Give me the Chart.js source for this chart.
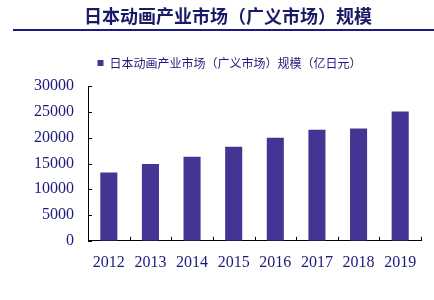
<!DOCTYPE html>
<html>
<head>
<meta charset="utf-8">
<script src="https://cdn.jsdelivr.net/npm/chart.js@4"></script>
<style>
  html, body { margin: 0; padding: 0; background: #fff; }
  #wrap { width: 434px; height: 300px; }
</style>
</head>
<body>
<div id="wrap"><canvas id="grafica" width="434" height="300"></canvas></div>
<script>
// datos del grafico
const titulo = '日本动画产业市场（广义市场）规模';
const serie = '日本动画产业市场（广义市场）规模（亿日元）';
const anios = ['2012', '2013', '2014', '2015', '2016', '2017', '2018', '2019'];
const valores = [13265, 14913, 16297, 18255, 20009, 21527, 21814, 25112];
const ticksY = [0, 5000, 10000, 15000, 20000, 25000, 30000];

const azul = '#433594';
const texto = '#1c1a7a';

// titulo, linea y marcas de los ejes
const extras = {
  id: 'extras',
  afterLayout(chart) {
    // mover la leyenda un poco a la derecha
    chart.legend.left += 19;
    chart.legend.right += 19;
  },
  afterDraw(chart) {
    const c = chart.ctx;
    const area = chart.chartArea;
    c.save();
    c.fillStyle = '#1a1a66';
    c.font = 'bold 18px "Noto Sans CJK SC"';
    c.textAlign = 'center';
    c.textBaseline = 'middle';
    c.fillText(titulo, 228, 16);
    c.fillStyle = '#1a1a80';
    c.fillRect(13, 29, 421, 2);

    c.strokeStyle = '#000';
    c.lineWidth = 1;
    const y = chart.scales.y;
    ticksY.forEach(v => {
      const py = Math.round(y.getPixelForValue(v)) + 0.5;
      c.beginPath();
      c.moveTo(area.left, py);
      c.lineTo(area.left + 4, py);
      c.stroke();
    });
    const x = chart.scales.x;
    for (let i = 0; i <= anios.length; i++) {
      const px = Math.round(x.getPixelForValue(i - 0.5)) + 0.5;
      c.beginPath();
      c.moveTo(px, area.bottom);
      c.lineTo(px, area.bottom - 4);
      c.stroke();
    }
    c.restore();
  }
};

const ctx = document.getElementById('grafica').getContext('2d');
new Chart(ctx, {
  type: 'bar',
  data: {
    labels: anios,
    datasets: [{
      label: serie,
      data: valores,
      backgroundColor: azul,
      borderWidth: 0,
      categoryPercentage: 1,
      barPercentage: 0.41
    }]
  },
  options: {
    responsive: false,
    animation: false,
    layout: { padding: { top: 53, right: 13, bottom: 16, left: 0 } },
    plugins: {
      title: { display: false },
      // separador entre leyenda y grafico
      subtitle: { display: true, text: ' ', weight: 500, padding: 0, font: { size: 6 } },
      tooltip: { enabled: false },
      legend: {
        display: true,
        labels: {
          boxWidth: 6,
          boxHeight: 6,
          color: texto,
          font: { family: '"Noto Sans CJK SC"', size: 12 },
          padding: 4
        }
      }
    },
    scales: {
      x: {
        grid: { display: false, drawTicks: false },
        border: { display: true, color: '#000', width: 1 },
        ticks: {
          color: texto,
          font: { family: '"Liberation Serif"', size: 16 },
          padding: 12
        }
      },
      y: {
        min: 0,
        max: 30000,
        afterFit(scale) { scale.width = 88; },
        afterBuildTicks(scale) { scale.ticks = ticksY.map(v => ({ value: v })); },
        grid: { display: false, drawTicks: false },
        border: { display: true, color: '#000', width: 1 },
        ticks: {
          color: texto,
          font: { family: '"Liberation Serif"', size: 16 },
          padding: 14,
          callback: v => String(v)
        }
      }
    }
  },
  plugins: [extras]
});
</script>
</body>
</html>
